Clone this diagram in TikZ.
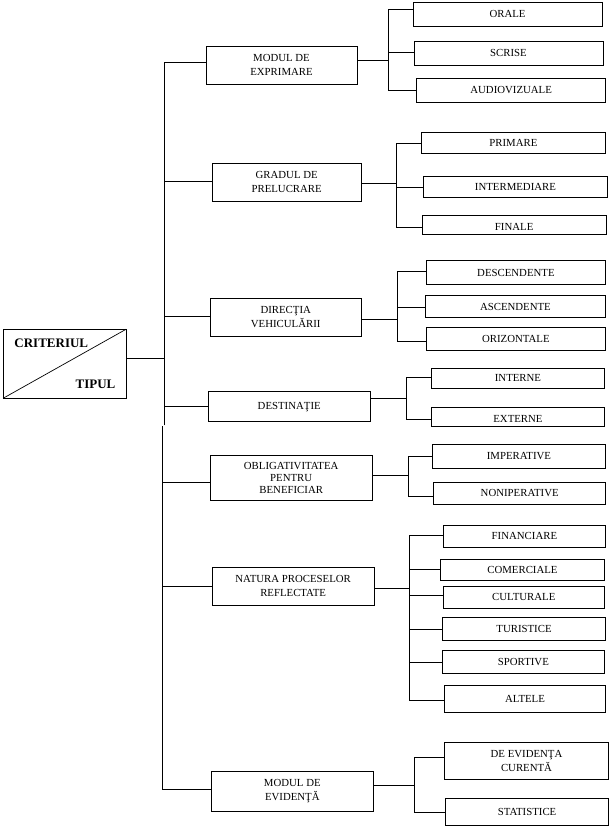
\documentclass[tikz,border=0pt]{standalone}
\usepackage{fontspec}
\setmainfont{Liberation Serif}
\tikzset{
  box/.style={draw, line width=0.9pt, inner sep=0pt, outer sep=0pt, align=center, font=\fontsize{10.8}{14}\selectfont},
  txt/.style={inner sep=0pt, font=\fontsize{10.8}{14}\selectfont},
  wire/.style={line width=0.9pt, line cap=rect},
  hdr/.style={inner sep=0pt, font=\fontsize{13}{14}\selectfont\bfseries}
}
\newcommand\bx[7][]{\node[box,#1,minimum width={#5-#3},minimum height={#6-#4}] (#2) at ({(#3+#5)/2},{(#4+#6)/2}) {#7};}
\newcommand\kid[8]{\bx{#1}{#2}{#3}{#4}{#5}{#8}\coordinate (j-#1) at (#6,#7);\draw[wire] (j-#1) -- (#1.west |- j-#1);}
\begin{document}
\begin{tikzpicture}[x=1pt,y=-1pt]
\useasboundingbox (0,0) rectangle (609,829);
% root
\bx{crit}{3.1}{329.3}{126}{398.3}{}
\draw[line width=0.7pt] (crit.south west) -- (crit.north east);
\node[hdr] (crit-t) at (51.3,343.3) {CRITERIUL};
\node[hdr] (tip-t) at (95.5,384) {TIPUL};
% level 1
\bx{m1}{206}{46.3}{357}{84.3}{MODUL DE\\EXPRIMARE}
\bx{m2}{212.3}{163.3}{361}{201.3}{GRADUL DE\\PRELUCRARE}
\bx{m3}{210.4}{298.3}{361}{336.3}{DIRECŢIA\\VEHICULĂRII}
\bx[text depth=0pt]{m4}{208.4}{391.3}{370}{421.3}{DESTINAŢIE}
\bx[font=\fontsize{10.8}{12}\selectfont]{m5}{210.4}{455.3}{372}{500}{OBLIGATIVITATEA\\PENTRU\\BENEFICIAR}
\bx{m6}{212.3}{567.3}{374}{605.3}{NATURA PROCESELOR\\REFLECTATE}
\bx{m7}{211.6}{771.3}{373}{811.3}{MODUL DE\\EVIDENŢĂ}
% trunk
\coordinate (k0) at (164.3,358.3);
\coordinate (ktop) at (164.3,62.3);
\coordinate (kmid1) at (164.3,425);
\coordinate (kmid2) at (162.8,426.8);
\coordinate (kbot) at (162.8,789.3);
\coordinate (k2) at (164.3,181.7);
\coordinate (k3) at (164.3,316.3);
\coordinate (k4) at (164.3,406.7);
\coordinate (k5) at (162.8,482.3);
\coordinate (k6) at (162.8,586.3);
\draw[wire] (crit.east |- k0) -- (k0);
\draw[wire] (ktop) -- (kmid1);
\draw[wire] (kmid2) -- (kbot);
\draw[wire] (ktop) -- (m1.west |- ktop);
\draw[wire] (k2) -- (m2.west |- k2);
\draw[wire] (k3) -- (m3.west |- k3);
\draw[wire] (k4) -- (m4.west |- k4);
\draw[wire] (k5) -- (m5.west |- k5);
\draw[wire] (k6) -- (m6.west |- k6);
\draw[wire] (kbot) -- (m7.west |- kbot);
% group 1
\kid{orale}{413}{2.7}{602}{26}{388.4}{9.3}{ORALE}
\kid{scrise}{414}{41.3}{603}{65.3}{388.4}{52.7}{SCRISE}
\kid{audio}{416.5}{78.3}{605.8}{102}{388.4}{90}{AUDIOVIZUALE}
\draw[wire] (j-orale) -- (j-audio);
\coordinate (s1) at (388.4,60.3); \draw[wire] (m1.east |- s1) -- (s1);
% group 2
\kid{primare}{421}{132.3}{605.8}{153.3}{396}{143.3}{PRIMARE}
\kid{interm}{423.5}{176.3}{607.4}{197.3}{396}{187.3}{INTERMEDIARE}
\kid{finale}{422.3}{215.3}{606}{234.7}{396}{227.7}{}
\coordinate (fcut) at (0,229.2);
\begin{scope}
\clip (finale.north west) rectangle (finale.east |- fcut);
\node[txt] (t-finale) at (514.15,227.3) {FINALE};
\end{scope}
\draw[wire] (j-primare) -- (j-finale);
\coordinate (s2) at (396,183); \draw[wire] (m2.east |- s2) -- (s2);
% group 3
\kid{descend}{426}{260.7}{605.8}{284.3}{397}{271}{DESCENDENTE}
\kid{ascend}{425}{295.7}{605.8}{317.3}{397}{307.7}{ASCENDENTE}
\kid{orizont}{426}{327.7}{605.8}{350.3}{397}{341.7}{ORIZONTALE}
\draw[wire] (j-descend) -- (j-orizont);
\coordinate (s3) at (397,319.3); \draw[wire] (m3.east |- s3) -- (s3);
% group 4
\kid{interne}{431.3}{368.3}{604.6}{388.3}{406}{377}{INTERNE}
\kid{externe}{431.3}{407.7}{604.6}{426}{406}{419.3}{}
\coordinate (ecut) at (0,421.3);
\begin{scope}
\clip (externe.north west) rectangle (externe.east |- ecut);
\node[txt] (t-externe) at (517.95,418.8) {EXTERNE};
\end{scope}
\draw[wire] (j-interne) -- (j-externe);
\coordinate (s4) at (406,398.3); \draw[wire] (m4.east |- s4) -- (s4);
% group 5
\kid{imper}{432}{444.7}{605.8}{468.3}{408.3}{456}{IMPERATIVE}
\kid{noniper}{433.6}{482.7}{605.8}{504.3}{408.3}{496}{NONIPERATIVE}
\draw[wire] (j-imper) -- (j-noniper);
\coordinate (s5) at (408.3,475); \draw[wire] (m5.east |- s5) -- (s5);
% group 6
\kid{financ}{443.4}{525.3}{605.4}{547.3}{409.5}{535}{FINANCIARE}
\kid{comerc}{440.7}{559.3}{604.2}{580.3}{409.5}{569.3}{COMERCIALE}
\kid{cultur}{443.4}{586.3}{604.2}{608.3}{409.5}{595.3}{CULTURALE}
\kid{turist}{442.6}{617.3}{605.4}{640.3}{409.5}{629}{TURISTICE}
\kid{sport}{442.6}{650.3}{604.2}{673.3}{409.5}{662.3}{SPORTIVE}
\kid{altele}{444.6}{685.3}{605.4}{712.3}{409.5}{700.3}{ALTELE}
\draw[wire] (j-financ) -- (j-altele);
\coordinate (s6) at (409.5,588.3); \draw[wire] (m6.east |- s6) -- (s6);
% group 7
\kid{deevid}{444.6}{742.3}{608.4}{779.3}{414.5}{757.3}{DE EVIDENŢA\\CURENTĂ}
\kid{statist}{445.7}{798.7}{608.4}{825.3}{414.5}{812.3}{STATISTICE}
\draw[wire] (j-deevid) -- (j-statist);
\coordinate (s7) at (414.5,785.3); \draw[wire] (m7.east |- s7) -- (s7);
\end{tikzpicture}
\end{document}
